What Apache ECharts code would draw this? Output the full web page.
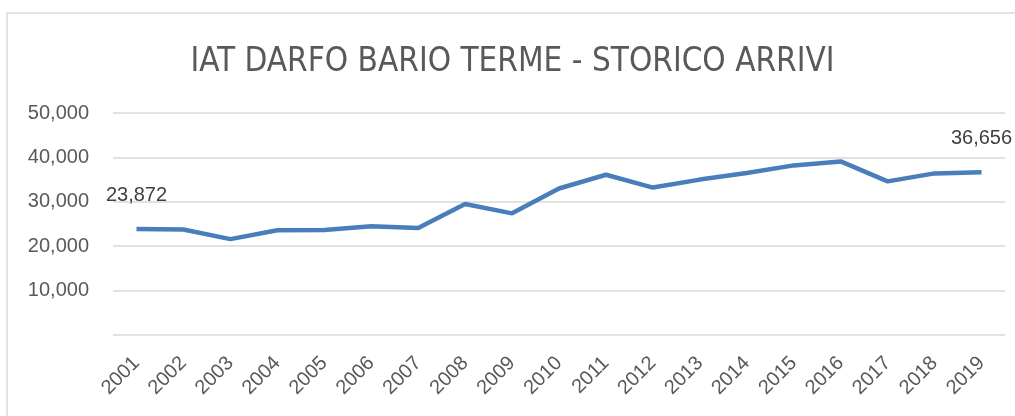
<!DOCTYPE html>
<html>
<head>
<meta charset="utf-8">
<script src="https://cdn.jsdelivr.net/npm/echarts@6/dist/echarts.min.js"></script>
<style>
  html, body { margin: 0; padding: 0; background: #fff; }
  #main { position: absolute; left: 6px; top: 12px; width: 1009px; height: 404px;
          border-top: 2px solid #e3e3e3; border-left: 2px solid #e3e3e3; }
</style>
</head>
<body>
<div id="main"></div>
<script>
var years = ['2001','2002','2003','2004','2005','2006','2007','2008','2009','2010',
             '2011','2012','2013','2014','2015','2016','2017','2018','2019'];
var arrivi = [23872, 23750, 21600, 23600, 23650, 24500, 24100, 29500, 27400, 33000,
              36100, 33200, 35000, 36500, 38200, 39100, 34600, 36400, 36656];
var yTicks = [0, 10000, 20000, 30000, 40000, 50000];

var chart = echarts.init(document.getElementById('main'));
var grey = '#595959';
var fmt = function (v) { return v.toLocaleString('en-US'); };

chart.setOption({
  animation: false,
  title: {
    text: 'IAT DARFO BARIO TERME - STORICO ARRIVI',
    left: 'center',
    top: 27,
    textStyle: { fontFamily: "'DejaVu Sans Condensed', 'Liberation Sans'", fontSize: 33, fontWeight: 'normal', color: grey }
  },
  grid: { left: 105, right: 12, top: 99, bottom: 83 },
  xAxis: {
    type: 'category',
    data: years,
    boundaryGap: true,
    axisLine: { show: false },
    axisTick: { show: false },
    axisLabel: { rotate: 45, margin: 25, fontSize: 20, color: grey, fontFamily: 'Liberation Sans' }
  },
  yAxis: {
    type: 'value',
    min: yTicks[0],
    max: yTicks[yTicks.length - 1],
    interval: yTicks[1] - yTicks[0],
    axisLine: { show: false },
    axisTick: { show: false },
    splitLine: { lineStyle: { color: '#d9d9d9', width: 1.5 } },
    axisLabel: {
      margin: 24, fontSize: 20, color: grey, fontFamily: 'Liberation Sans',
      showMinLabel: false,
      formatter: fmt
    }
  },
  series: [{
    type: 'line',
    data: arrivi.map(function (v, i) {
      var last = i === 0 || i === arrivi.length - 1;
      return { value: v, label: { show: last } };
    }),
    symbol: 'circle',
    symbolSize: 0,
    showSymbol: true,
    itemStyle: { color: '#4a7ebb' },
    lineStyle: { color: '#4a7ebb', width: 4.5 },
    label: {
      position: 'top', distance: 24, fontSize: 20, color: '#404040', fontFamily: 'Liberation Sans',
      formatter: function (p) { return fmt(p.value); }
    }
  }]
});
</script>
</body>
</html>
